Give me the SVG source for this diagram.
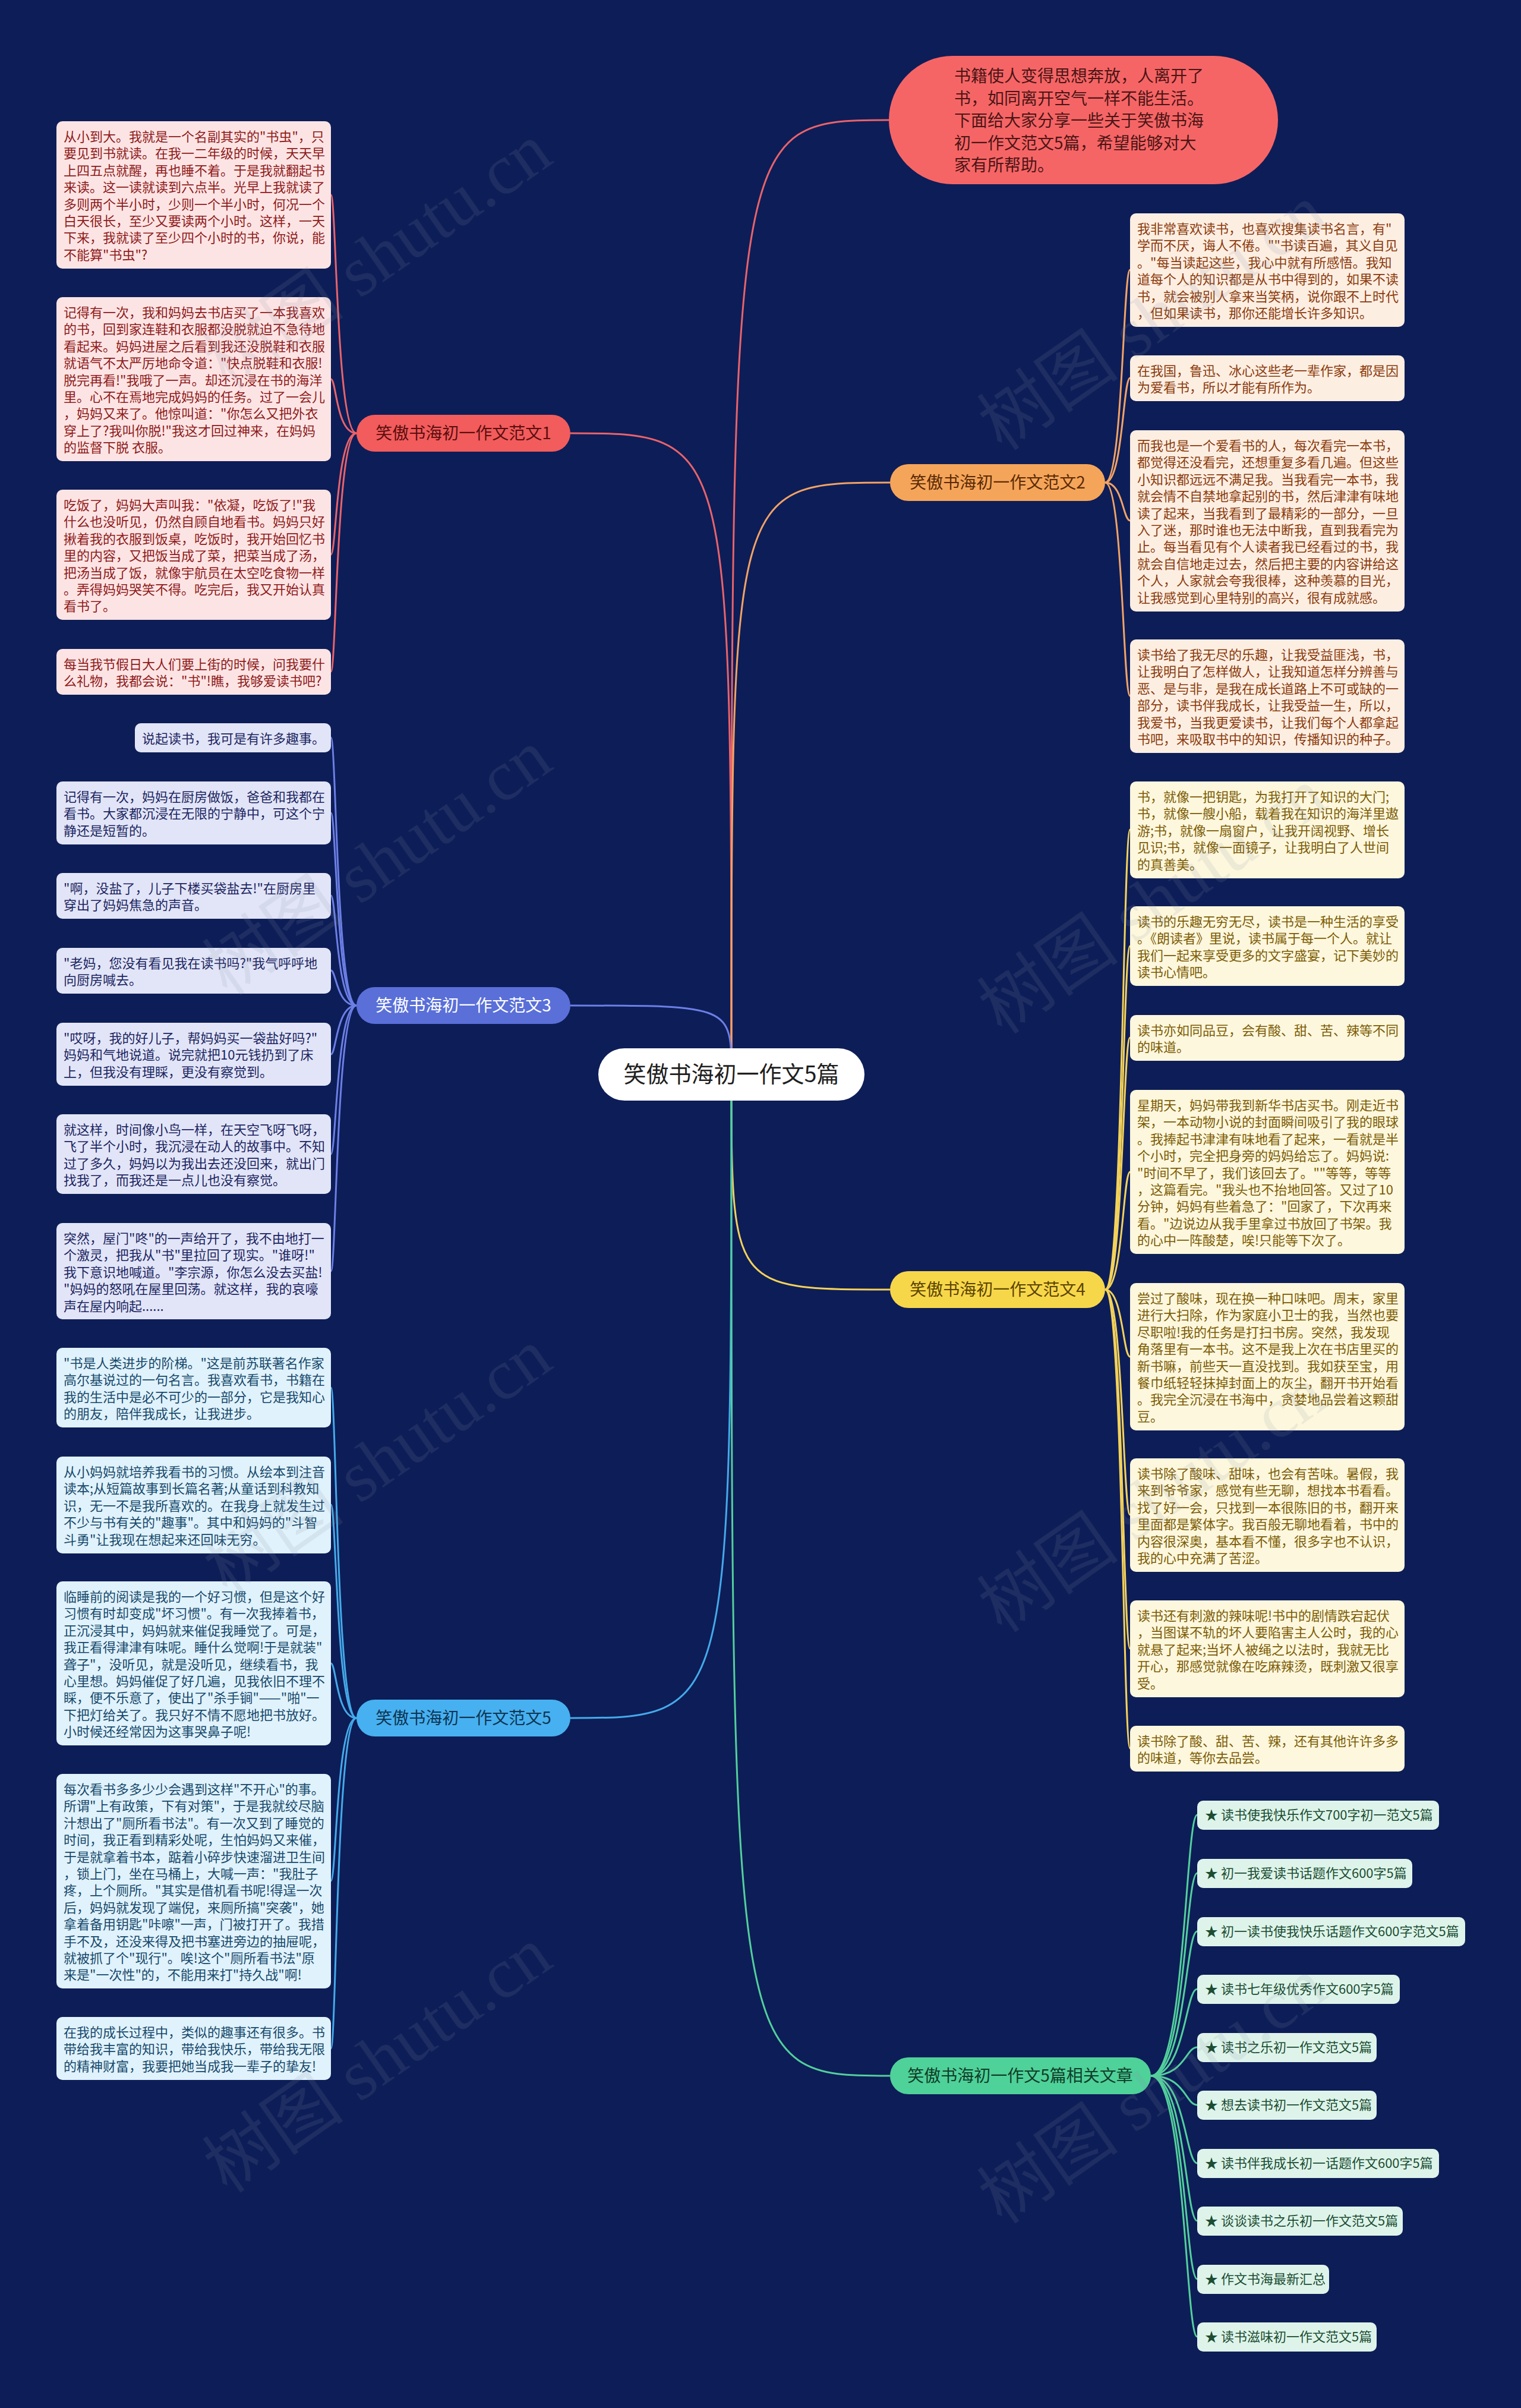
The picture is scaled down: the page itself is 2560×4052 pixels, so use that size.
<svg xmlns="http://www.w3.org/2000/svg" width="2560" height="4052" viewBox="0 0 2560 4052">
<style>
.t{font-family:"Noto Sans CJK SC","Noto Sans",sans-serif;font-size:22px}
.c{fill:none;stroke-width:3}
.b1{fill:#fde4e4}.x1{fill:#8e1b1b}.l1{stroke:#e8636b}
.b2{fill:#fdeee2}.x2{fill:#8a3b0c}.l2{stroke:#f2a365}
.b3{fill:#e2e5f7}.x3{fill:#1c2562}.l3{stroke:#6c7fe6}
.b4{fill:#fdf7dd}.x4{fill:#7c5c05}.l4{stroke:#f3d25a}
.b5{fill:#e0f2fb}.x5{fill:#17496c}.l5{stroke:#44aaea}
.b6{fill:#def4ea}.x6{fill:#1b4d33}.l6{stroke:#52d09c}
.bn{font-family:"Noto Sans CJK SC","Noto Sans",sans-serif;font-size:28px;text-anchor:middle}
.wm{font-family:"Liberation Serif","Noto Sans CJK SC",serif;font-size:120px;fill:#8a93a8;fill-opacity:0.14;text-anchor:middle}
</style>
<rect width="2560" height="4052" fill="#0d1d57"/>

<g id="connectors">
<path class="c l1" d="M1231 1808 C1231 202,1231 202,1496 202"/>
<path class="c l1" d="M1231 1808 C1231 729,1231 729,960 729"/>
<path class="c l2" d="M1231 1808 C1231 812,1231 812,1498 812"/>
<path class="c l3" d="M1231 1808 C1231 1692,1231 1692,960 1692"/>
<path class="c l4" d="M1231 1808 C1231 2170,1231 2170,1498 2170"/>
<path class="c l5" d="M1231 1808 C1231 2891,1231 2891,960 2891"/>
<path class="c l6" d="M1231 1808 C1231 3493,1231 3493,1498 3493"/>

<path class="c l1" d="M600 729 C566 729,566 328,557 328"/>
<path class="c l1" d="M600 729 C566 729,566 638,557 638"/>
<path class="c l1" d="M600 729 C566 729,566 933,557 933"/>
<path class="c l1" d="M600 729 C566 729,566 1130,557 1130"/>

<path class="c l3" d="M600 1692 C566 1692,566 1241,557 1241"/>
<path class="c l3" d="M600 1692 C566 1692,566 1368,557 1368"/>
<path class="c l3" d="M600 1692 C566 1692,566 1507,557 1507"/>
<path class="c l3" d="M600 1692 C566 1692,566 1633,557 1633"/>
<path class="c l3" d="M600 1692 C566 1692,566 1774,557 1774"/>
<path class="c l3" d="M600 1692 C566 1692,566 1942,557 1942"/>
<path class="c l3" d="M600 1692 C566 1692,566 2139,557 2139"/>

<path class="c l5" d="M600 2891 C566 2891,566 2335,557 2335"/>
<path class="c l5" d="M600 2891 C566 2891,566 2532,557 2532"/>
<path class="c l5" d="M600 2891 C566 2891,566 2799,557 2799"/>
<path class="c l5" d="M600 2891 C566 2891,566 3165,557 3165"/>
<path class="c l5" d="M600 2891 C566 2891,566 3447,557 3447"/>

<path class="c l2" d="M1860 812 C1890 812,1890 454,1902 454"/>
<path class="c l2" d="M1860 812 C1890 812,1890 636,1902 636"/>
<path class="c l2" d="M1860 812 C1890 812,1890 876,1902 876"/>
<path class="c l2" d="M1860 812 C1890 812,1890 1171,1902 1171"/>

<path class="c l4" d="M1860 2170 C1890 2170,1890 1396,1902 1396"/>
<path class="c l4" d="M1860 2170 C1890 2170,1890 1592,1902 1592"/>
<path class="c l4" d="M1860 2170 C1890 2170,1890 1746,1902 1746"/>
<path class="c l4" d="M1860 2170 C1890 2170,1890 1972,1902 1972"/>
<path class="c l4" d="M1860 2170 C1890 2170,1890 2283,1902 2283"/>
<path class="c l4" d="M1860 2170 C1890 2170,1890 2549,1902 2549"/>
<path class="c l4" d="M1860 2170 C1890 2170,1890 2774,1902 2774"/>
<path class="c l4" d="M1860 2170 C1890 2170,1890 2942,1902 2942"/>

<path class="c l6" d="M1937 3493 C1995 3493,1995 3054,2015 3054"/>
<path class="c l6" d="M1937 3493 C1995 3493,1995 3152,2015 3152"/>
<path class="c l6" d="M1937 3493 C1995 3493,1995 3250,2015 3250"/>
<path class="c l6" d="M1937 3493 C1995 3493,1995 3347,2015 3347"/>
<path class="c l6" d="M1937 3493 C1995 3493,1995 3445,2015 3445"/>
<path class="c l6" d="M1937 3493 C1995 3493,1995 3542,2015 3542"/>
<path class="c l6" d="M1937 3493 C1995 3493,1995 3640,2015 3640"/>
<path class="c l6" d="M1937 3493 C1995 3493,1995 3737,2015 3737"/>
<path class="c l6" d="M1937 3493 C1995 3493,1995 3835,2015 3835"/>
<path class="c l6" d="M1937 3493 C1995 3493,1995 3932,2015 3932"/>
</g>

<g id="center">
<rect x="1007" y="1764" width="448" height="88" rx="44" fill="#ffffff"/>
<text x="1231" y="1821" text-anchor="middle" font-family="Noto Sans CJK SC, Noto Sans, sans-serif" font-size="38" fill="#1f1f1f">笑傲书海初一作文5篇</text>
</g>

<g id="intro">
<rect x="1496" y="94" width="655" height="216" rx="108" fill="#f66566"/>
<text class="t" fill="#4a1515" style="font-size:28px"><tspan x="1606" y="138">书籍使人变得思想奔放，人离开了</tspan><tspan x="1606" y="176">书，如同离开空气一样不能生活。</tspan><tspan x="1606" y="213">下面给大家分享一些关于笑傲书海</tspan><tspan x="1606" y="251">初一作文范文5篇，希望能够对大</tspan><tspan x="1606" y="288">家有所帮助。</tspan></text>
</g>

<g id="branch1">
<rect x="600" y="698" width="360" height="62" rx="31" fill="#f25c5c"/>
<text class="bn" x="780" y="739" fill="#5a0e0e">笑傲书海初一作文范文1</text>
</g>
<g id="branch2">
<rect x="1498" y="781" width="362" height="62" rx="31" fill="#f5a55a"/>
<text class="bn" x="1679" y="822" fill="#5a2a05">笑傲书海初一作文范文2</text>
</g>
<g id="branch3">
<rect x="600" y="1661" width="360" height="62" rx="31" fill="#5a6fd8"/>
<text class="bn" x="780" y="1702" fill="#ffffff">笑傲书海初一作文范文3</text>
</g>
<g id="branch4">
<rect x="1498" y="2139" width="362" height="62" rx="31" fill="#f7d74a"/>
<text class="bn" x="1679" y="2180" fill="#5a4300">笑傲书海初一作文范文4</text>
</g>
<g id="branch5">
<rect x="600" y="2860" width="360" height="62" rx="31" fill="#47b0f0"/>
<text class="bn" x="780" y="2901" fill="#0d3552">笑傲书海初一作文范文5</text>
</g>
<g id="branch6">
<rect x="1498" y="3462" width="439" height="62" rx="31" fill="#4fd19a"/>
<text class="bn" x="1717" y="3503" fill="#0f3d27">笑傲书海初一作文5篇相关文章</text>
</g>

<g id="fan1-leaves">
<g id="l1a"><rect class="b1" x="95" y="204" width="462" height="248" rx="10"/>
<text class="t x1"><tspan x="107" y="238">从小到大。我就是一个名副其实的"书虫"，只</tspan><tspan x="107" dy="28.4">要见到书就读。在我一二年级的时候，天天早</tspan><tspan x="107" dy="28.4">上四五点就醒，再也睡不着。于是我就翻起书</tspan><tspan x="107" dy="28.4">来读。这一读就读到六点半。光早上我就读了</tspan><tspan x="107" dy="28.4">多则两个半小时，少则一个半小时，何况一个</tspan><tspan x="107" dy="28.4">白天很长，至少又要读两个小时。这样，一天</tspan><tspan x="107" dy="28.4">下来，我就读了至少四个小时的书，你说，能</tspan><tspan x="107" dy="28.4">不能算"书虫"?</tspan></text></g>
<g id="l1b"><rect class="b1" x="95" y="500" width="462" height="276" rx="10"/>
<text class="t x1"><tspan x="107" y="534">记得有一次，我和妈妈去书店买了一本我喜欢</tspan><tspan x="107" dy="28.4">的书，回到家连鞋和衣服都没脱就迫不急待地</tspan><tspan x="107" dy="28.4">看起来。妈妈进屋之后看到我还没脱鞋和衣服</tspan><tspan x="107" dy="28.4">就语气不太严厉地命令道："快点脱鞋和衣服!</tspan><tspan x="107" dy="28.4">脱完再看!"我哦了一声。却还沉浸在书的海洋</tspan><tspan x="107" dy="28.4">里。心不在焉地完成妈妈的任务。过了一会儿</tspan><tspan x="107" dy="28.4">，妈妈又来了。他惊叫道："你怎么又把外衣</tspan><tspan x="107" dy="28.4">穿上了?我叫你脱!"我这才回过神来，在妈妈</tspan><tspan x="107" dy="28.4">的监督下脱 衣服。</tspan></text></g>
<g id="l1c"><rect class="b1" x="95" y="824" width="462" height="219" rx="10"/>
<text class="t x1"><tspan x="107" y="858">吃饭了，妈妈大声叫我："依凝，吃饭了!"我</tspan><tspan x="107" dy="28.4">什么也没听见，仍然自顾自地看书。妈妈只好</tspan><tspan x="107" dy="28.4">揪着我的衣服到饭桌，吃饭时，我开始回忆书</tspan><tspan x="107" dy="28.4">里的内容，又把饭当成了菜，把菜当成了汤，</tspan><tspan x="107" dy="28.4">把汤当成了饭，就像宇航员在太空吃食物一样</tspan><tspan x="107" dy="28.4">。弄得妈妈哭笑不得。吃完后，我又开始认真</tspan><tspan x="107" dy="28.4">看书了。</tspan></text></g>
<g id="l1d"><rect class="b1" x="95" y="1092" width="462" height="77" rx="10"/>
<text class="t x1"><tspan x="107" y="1126">每当我节假日大人们要上街的时候，问我要什</tspan><tspan x="107" dy="28.4">么礼物，我都会说："书"!瞧，我够爱读书吧?</tspan></text></g>
</g>

<g id="fan3-leaves">
<g id="l3a"><rect class="b3" x="227" y="1217" width="330" height="49" rx="10"/>
<text class="t x3"><tspan x="239" y="1251">说起读书，我可是有许多趣事。</tspan></text></g>
<g id="l3b"><rect class="b3" x="95" y="1315" width="462" height="106" rx="10"/>
<text class="t x3"><tspan x="107" y="1349">记得有一次，妈妈在厨房做饭，爸爸和我都在</tspan><tspan x="107" dy="28.4">看书。大家都沉浸在无限的宁静中，可这个宁</tspan><tspan x="107" dy="28.4">静还是短暂的。</tspan></text></g>
<g id="l3c"><rect class="b3" x="95" y="1469" width="462" height="77" rx="10"/>
<text class="t x3"><tspan x="107" y="1503">"啊，没盐了，儿子下楼买袋盐去!"在厨房里</tspan><tspan x="107" dy="28.4">穿出了妈妈焦急的声音。</tspan></text></g>
<g id="l3d"><rect class="b3" x="95" y="1595" width="462" height="77" rx="10"/>
<text class="t x3"><tspan x="107" y="1629">"老妈，您没有看见我在读书吗?"我气呼呼地</tspan><tspan x="107" dy="28.4">向厨房喊去。</tspan></text></g>
<g id="l3e"><rect class="b3" x="95" y="1721" width="462" height="106" rx="10"/>
<text class="t x3"><tspan x="107" y="1755">"哎呀，我的好儿子，帮妈妈买一袋盐好吗?"</tspan><tspan x="107" dy="28.4">妈妈和气地说道。说完就把10元钱扔到了床</tspan><tspan x="107" dy="28.4">上，但我没有理睬，更没有察觉到。</tspan></text></g>
<g id="l3f"><rect class="b3" x="95" y="1875" width="462" height="134" rx="10"/>
<text class="t x3"><tspan x="107" y="1909">就这样，时间像小鸟一样，在天空飞呀飞呀，</tspan><tspan x="107" dy="28.4">飞了半个小时，我沉浸在动人的故事中。不知</tspan><tspan x="107" dy="28.4">过了多久，妈妈以为我出去还没回来，就出门</tspan><tspan x="107" dy="28.4">找我了，而我还是一点儿也没有察觉。</tspan></text></g>
<g id="l3g"><rect class="b3" x="95" y="2058" width="462" height="162" rx="10"/>
<text class="t x3"><tspan x="107" y="2092">突然，屋门"咚"的一声给开了，我不由地打一</tspan><tspan x="107" dy="28.4">个激灵，把我从"书"里拉回了现实。"谁呀!"</tspan><tspan x="107" dy="28.4">我下意识地喊道。"李宗源，你怎么没去买盐!</tspan><tspan x="107" dy="28.4">"妈妈的怒吼在屋里回荡。就这样，我的哀嚎</tspan><tspan x="107" dy="28.4">声在屋内响起......</tspan></text></g>
</g>

<g id="fan5-leaves">
<g id="l5a"><rect class="b5" x="95" y="2268" width="462" height="134" rx="10"/>
<text class="t x5"><tspan x="107" y="2302">"书是人类进步的阶梯。"这是前苏联著名作家</tspan><tspan x="107" dy="28.4">高尔基说过的一句名言。我喜欢看书，书籍在</tspan><tspan x="107" dy="28.4">我的生活中是必不可少的一部分，它是我知心</tspan><tspan x="107" dy="28.4">的朋友，陪伴我成长，让我进步。</tspan></text></g>
<g id="l5b"><rect class="b5" x="95" y="2451" width="462" height="163" rx="10"/>
<text class="t x5"><tspan x="107" y="2485">从小妈妈就培养我看书的习惯。从绘本到注音</tspan><tspan x="107" dy="28.4">读本;从短篇故事到长篇名著;从童话到科教知</tspan><tspan x="107" dy="28.4">识，无一不是我所喜欢的。在我身上就发生过</tspan><tspan x="107" dy="28.4">不少与书有关的"趣事"。其中和妈妈的"斗智</tspan><tspan x="107" dy="28.4">斗勇"让我现在想起来还回味无穷。</tspan></text></g>
<g id="l5c"><rect class="b5" x="95" y="2661" width="462" height="276" rx="10"/>
<text class="t x5"><tspan x="107" y="2695">临睡前的阅读是我的一个好习惯，但是这个好</tspan><tspan x="107" dy="28.4">习惯有时却变成"坏习惯"。有一次我捧着书，</tspan><tspan x="107" dy="28.4">正沉浸其中，妈妈就来催促我睡觉了。可是，</tspan><tspan x="107" dy="28.4">我正看得津津有味呢。睡什么觉啊!于是就装"</tspan><tspan x="107" dy="28.4">聋子"，没听见，就是没听见，继续看书，我</tspan><tspan x="107" dy="28.4">心里想。妈妈催促了好几遍，见我依旧不理不</tspan><tspan x="107" dy="28.4">睬，便不乐意了，使出了"杀手锏"——"啪"一</tspan><tspan x="107" dy="28.4">下把灯给关了。我只好不情不愿地把书放好。</tspan><tspan x="107" dy="28.4">小时候还经常因为这事哭鼻子呢!</tspan></text></g>
<g id="l5d"><rect class="b5" x="95" y="2985" width="462" height="361" rx="10"/>
<text class="t x5"><tspan x="107" y="3019">每次看书多多少少会遇到这样"不开心"的事。</tspan><tspan x="107" dy="28.4">所谓"上有政策，下有对策"，于是我就绞尽脑</tspan><tspan x="107" dy="28.4">汁想出了"厕所看书法"。有一次又到了睡觉的</tspan><tspan x="107" dy="28.4">时间，我正看到精彩处呢，生怕妈妈又来催，</tspan><tspan x="107" dy="28.4">于是就拿着书本，踮着小碎步快速溜进卫生间</tspan><tspan x="107" dy="28.4">，锁上门，坐在马桶上，大喊一声："我肚子</tspan><tspan x="107" dy="28.4">疼，上个厕所。"其实是借机看书呢!得逞一次</tspan><tspan x="107" dy="28.4">后，妈妈就发现了端倪，来厕所搞"突袭"，她</tspan><tspan x="107" dy="28.4">拿着备用钥匙"咔嚓"一声，门被打开了。我措</tspan><tspan x="107" dy="28.4">手不及，还没来得及把书塞进旁边的抽屉呢，</tspan><tspan x="107" dy="28.4">就被抓了个"现行"。唉!这个"厕所看书法"原</tspan><tspan x="107" dy="28.4">来是"一次性"的，不能用来打"持久战"啊!</tspan></text></g>
<g id="l5e"><rect class="b5" x="95" y="3394" width="462" height="106" rx="10"/>
<text class="t x5"><tspan x="107" y="3428">在我的成长过程中，类似的趣事还有很多。书</tspan><tspan x="107" dy="28.4">带给我丰富的知识，带给我快乐，带给我无限</tspan><tspan x="107" dy="28.4">的精神财富，我要把她当成我一辈子的挚友!</tspan></text></g>
</g>

<g id="fan2-leaves">
<g id="r2a"><rect class="b2" x="1902" y="359" width="462" height="191" rx="10"/>
<text class="t x2"><tspan x="1914" y="393">我非常喜欢读书，也喜欢搜集读书名言，有"</tspan><tspan x="1914" dy="28.4">学而不厌，诲人不倦。""书读百遍，其义自见</tspan><tspan x="1914" dy="28.4">。"每当读起这些，我心中就有所感悟。我知</tspan><tspan x="1914" dy="28.4">道每个人的知识都是从书中得到的，如果不读</tspan><tspan x="1914" dy="28.4">书，就会被别人拿来当笑柄，说你跟不上时代</tspan><tspan x="1914" dy="28.4">，但如果读书，那你还能增长许多知识。</tspan></text></g>
<g id="r2b"><rect class="b2" x="1902" y="598" width="462" height="77" rx="10"/>
<text class="t x2"><tspan x="1914" y="632">在我国，鲁迅、冰心这些老一辈作家，都是因</tspan><tspan x="1914" dy="28.4">为爱看书，所以才能有所作为。</tspan></text></g>
<g id="r2c"><rect class="b2" x="1902" y="724" width="462" height="305" rx="10"/>
<text class="t x2"><tspan x="1914" y="758">而我也是一个爱看书的人，每次看完一本书，</tspan><tspan x="1914" dy="28.4">都觉得还没看完，还想重复多看几遍。但这些</tspan><tspan x="1914" dy="28.4">小知识都远远不满足我。当我看完一本书，我</tspan><tspan x="1914" dy="28.4">就会情不自禁地拿起别的书，然后津津有味地</tspan><tspan x="1914" dy="28.4">读了起来，当我看到了最精彩的一部分，一旦</tspan><tspan x="1914" dy="28.4">入了迷，那时谁也无法中断我，直到我看完为</tspan><tspan x="1914" dy="28.4">止。每当看见有个人读者我已经看过的书，我</tspan><tspan x="1914" dy="28.4">就会自信地走过去，然后把主要的内容讲给这</tspan><tspan x="1914" dy="28.4">个人，人家就会夸我很棒，这种羡慕的目光，</tspan><tspan x="1914" dy="28.4">让我感觉到心里特别的高兴，很有成就感。</tspan></text></g>
<g id="r2d"><rect class="b2" x="1902" y="1076" width="462" height="191" rx="10"/>
<text class="t x2"><tspan x="1914" y="1110">读书给了我无尽的乐趣，让我受益匪浅，书，</tspan><tspan x="1914" dy="28.4">让我明白了怎样做人，让我知道怎样分辨善与</tspan><tspan x="1914" dy="28.4">恶、是与非，是我在成长道路上不可或缺的一</tspan><tspan x="1914" dy="28.4">部分，读书伴我成长，让我受益一生，所以，</tspan><tspan x="1914" dy="28.4">我爱书，当我更爱读书，让我们每个人都拿起</tspan><tspan x="1914" dy="28.4">书吧，来吸取书中的知识，传播知识的种子。</tspan></text></g>
</g>

<g id="fan4-leaves">
<g id="r4a"><rect class="b4" x="1902" y="1315" width="462" height="163" rx="10"/>
<text class="t x4"><tspan x="1914" y="1349">书，就像一把钥匙，为我打开了知识的大门;</tspan><tspan x="1914" dy="28.4">书，就像一艘小船，载着我在知识的海洋里遨</tspan><tspan x="1914" dy="28.4">游;书，就像一扇窗户，让我开阔视野、增长</tspan><tspan x="1914" dy="28.4">见识;书，就像一面镜子，让我明白了人世间</tspan><tspan x="1914" dy="28.4">的真善美。</tspan></text></g>
<g id="r4b"><rect class="b4" x="1902" y="1525" width="462" height="134" rx="10"/>
<text class="t x4"><tspan x="1914" y="1559">读书的乐趣无穷无尽，读书是一种生活的享受</tspan><tspan x="1914" dy="28.4">。《朗读者》里说，读书属于每一个人。就让</tspan><tspan x="1914" dy="28.4">我们一起来享受更多的文字盛宴，记下美妙的</tspan><tspan x="1914" dy="28.4">读书心情吧。</tspan></text></g>
<g id="r4c"><rect class="b4" x="1902" y="1708" width="462" height="77" rx="10"/>
<text class="t x4"><tspan x="1914" y="1742">读书亦如同品豆，会有酸、甜、苦、辣等不同</tspan><tspan x="1914" dy="28.4">的味道。</tspan></text></g>
<g id="r4d"><rect class="b4" x="1902" y="1834" width="462" height="276" rx="10"/>
<text class="t x4"><tspan x="1914" y="1868">星期天，妈妈带我到新华书店买书。刚走近书</tspan><tspan x="1914" dy="28.4">架，一本动物小说的封面瞬间吸引了我的眼球</tspan><tspan x="1914" dy="28.4">。我捧起书津津有味地看了起来，一看就是半</tspan><tspan x="1914" dy="28.4">个小时，完全把身旁的妈妈给忘了。妈妈说:</tspan><tspan x="1914" dy="28.4">"时间不早了，我们该回去了。""等等，等等</tspan><tspan x="1914" dy="28.4">，这篇看完。"我头也不抬地回答。又过了10</tspan><tspan x="1914" dy="28.4">分钟，妈妈有些着急了："回家了，下次再来</tspan><tspan x="1914" dy="28.4">看。"边说边从我手里拿过书放回了书架。我</tspan><tspan x="1914" dy="28.4">的心中一阵酸楚，唉!只能等下次了。</tspan></text></g>
<g id="r4e"><rect class="b4" x="1902" y="2159" width="462" height="248" rx="10"/>
<text class="t x4"><tspan x="1914" y="2193">尝过了酸味，现在换一种口味吧。周末，家里</tspan><tspan x="1914" dy="28.4">进行大扫除，作为家庭小卫士的我，当然也要</tspan><tspan x="1914" dy="28.4">尽职啦!我的任务是打扫书房。突然，我发现</tspan><tspan x="1914" dy="28.4">角落里有一本书。这不是我上次在书店里买的</tspan><tspan x="1914" dy="28.4">新书嘛，前些天一直没找到。我如获至宝，用</tspan><tspan x="1914" dy="28.4">餐巾纸轻轻抹掉封面上的灰尘，翻开书开始看</tspan><tspan x="1914" dy="28.4">。我完全沉浸在书海中，贪婪地品尝着这颗甜</tspan><tspan x="1914" dy="28.4">豆。</tspan></text></g>
<g id="r4f"><rect class="b4" x="1902" y="2454" width="462" height="191" rx="10"/>
<text class="t x4"><tspan x="1914" y="2488">读书除了酸味、甜味，也会有苦味。暑假，我</tspan><tspan x="1914" dy="28.4">来到爷爷家，感觉有些无聊，想找本书看看。</tspan><tspan x="1914" dy="28.4">找了好一会，只找到一本很陈旧的书，翻开来</tspan><tspan x="1914" dy="28.4">里面都是繁体字。我百般无聊地看着，书中的</tspan><tspan x="1914" dy="28.4">内容很深奥，基本看不懂，很多字也不认识，</tspan><tspan x="1914" dy="28.4">我的心中充满了苦涩。</tspan></text></g>
<g id="r4g"><rect class="b4" x="1902" y="2693" width="462" height="163" rx="10"/>
<text class="t x4"><tspan x="1914" y="2727">读书还有刺激的辣味呢!书中的剧情跌宕起伏</tspan><tspan x="1914" dy="28.4">，当图谋不轨的坏人要陷害主人公时，我的心</tspan><tspan x="1914" dy="28.4">就悬了起来;当坏人被绳之以法时，我就无比</tspan><tspan x="1914" dy="28.4">开心，那感觉就像在吃麻辣烫，既刺激又很享</tspan><tspan x="1914" dy="28.4">受。</tspan></text></g>
<g id="r4h"><rect class="b4" x="1902" y="2904" width="462" height="77" rx="10"/>
<text class="t x4"><tspan x="1914" y="2938">读书除了酸、甜、苦、辣，还有其他许许多多</tspan><tspan x="1914" dy="28.4">的味道，等你去品尝。</tspan></text></g>
</g>

<g id="related-leaves">
<g id="a1"><rect class="b6" x="2015" y="3030" width="407" height="49" rx="10"/><text class="t x6" x="2028" y="3062">★ 读书使我快乐作文700字初一范文5篇</text></g>
<g id="a2"><rect class="b6" x="2015" y="3128" width="362" height="49" rx="10"/><text class="t x6" x="2028" y="3160">★ 初一我爱读书话题作文600字5篇</text></g>
<g id="a3"><rect class="b6" x="2015" y="3226" width="451" height="49" rx="10"/><text class="t x6" x="2028" y="3258">★ 初一读书使我快乐话题作文600字范文5篇</text></g>
<g id="a4"><rect class="b6" x="2015" y="3323" width="341" height="49" rx="10"/><text class="t x6" x="2028" y="3355">★ 读书七年级优秀作文600字5篇</text></g>
<g id="a5"><rect class="b6" x="2015" y="3421" width="302" height="49" rx="10"/><text class="t x6" x="2028" y="3453">★ 读书之乐初一作文范文5篇</text></g>
<g id="a6"><rect class="b6" x="2015" y="3518" width="302" height="49" rx="10"/><text class="t x6" x="2028" y="3550">★ 想去读书初一作文范文5篇</text></g>
<g id="a7"><rect class="b6" x="2015" y="3616" width="407" height="49" rx="10"/><text class="t x6" x="2028" y="3648">★ 读书伴我成长初一话题作文600字5篇</text></g>
<g id="a8"><rect class="b6" x="2015" y="3713" width="346" height="49" rx="10"/><text class="t x6" x="2028" y="3745">★ 谈谈读书之乐初一作文范文5篇</text></g>
<g id="a9"><rect class="b6" x="2015" y="3811" width="222" height="49" rx="10"/><text class="t x6" x="2028" y="3843">★ 作文书海最新汇总</text></g>
<g id="a10"><rect class="b6" x="2015" y="3908" width="302" height="49" rx="10"/><text class="t x6" x="2028" y="3940">★ 读书滋味初一作文范文5篇</text></g>
</g>

<g id="watermarks">
<text class="wm" transform="translate(659 465) rotate(-35)">树图 shutu.cn</text>
<text class="wm" transform="translate(659 1485) rotate(-35)">树图 shutu.cn</text>
<text class="wm" transform="translate(659 2493) rotate(-35)">树图 shutu.cn</text>
<text class="wm" transform="translate(659 3500) rotate(-35)">树图 shutu.cn</text>
<text class="wm" transform="translate(1963 568) rotate(-35)">树图 shutu.cn</text>
<text class="wm" transform="translate(1963 1550) rotate(-35)">树图 shutu.cn</text>
<text class="wm" transform="translate(1963 2557) rotate(-35)">树图 shutu.cn</text>
<text class="wm" transform="translate(1963 3552) rotate(-35)">树图 shutu.cn</text>
</g>
</svg>
